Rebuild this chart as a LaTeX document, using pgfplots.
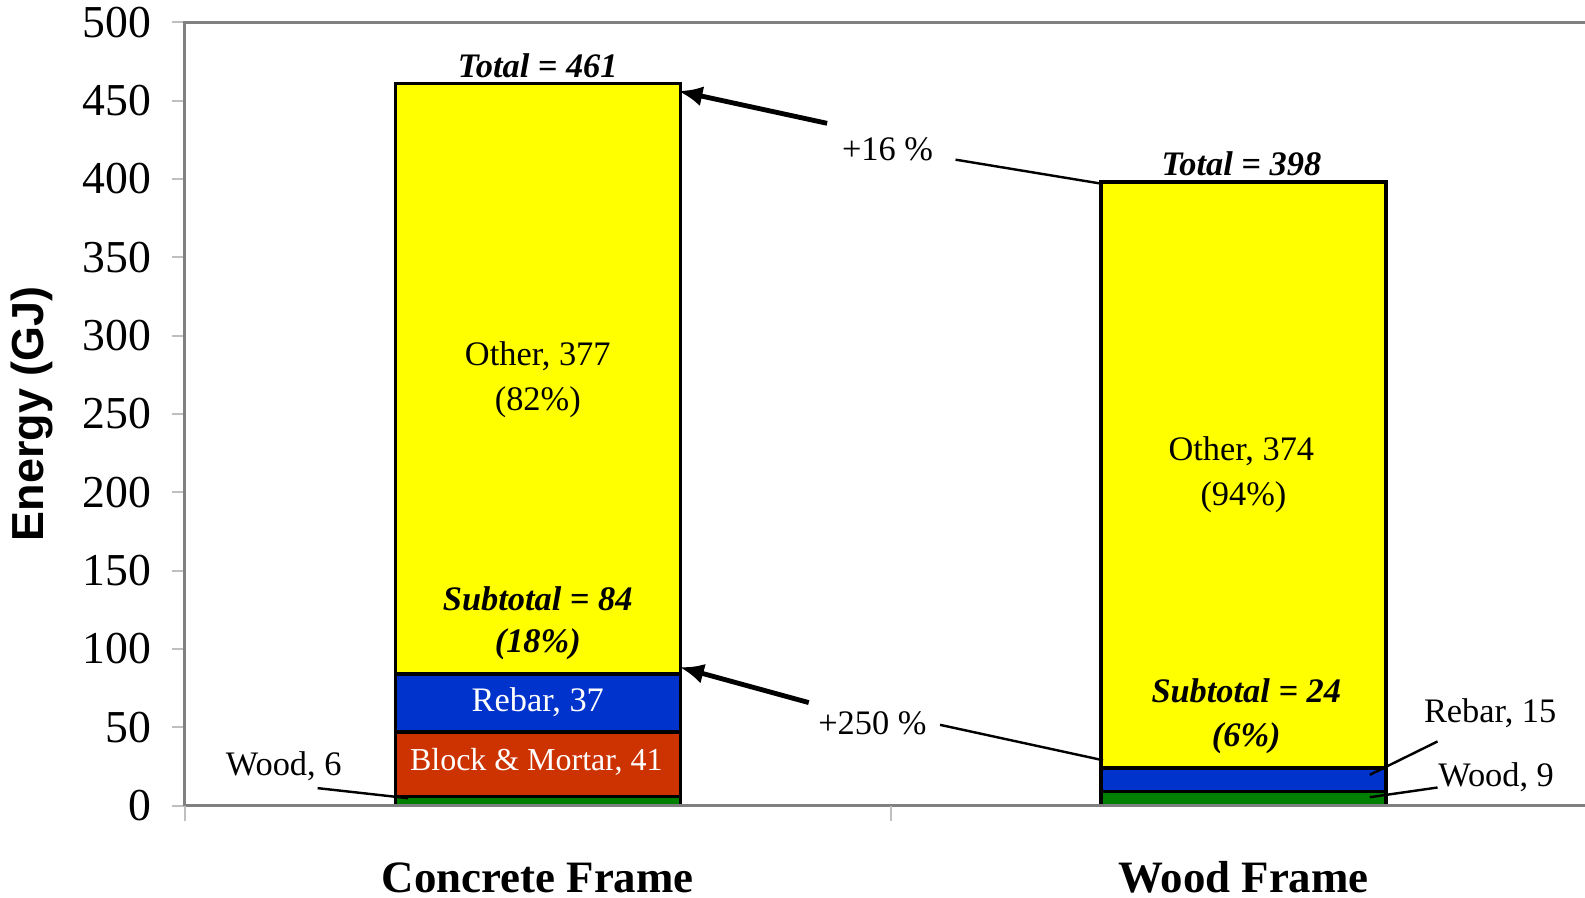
\documentclass[border=0pt]{standalone}
\usepackage{fontspec}
\setmainfont{Liberation Serif}
\newfontfamily\arialfont{Liberation Sans}
\usepackage{pgfplots}
\pgfplotsset{compat=1.18}
\usetikzlibrary{arrows.meta}
\definecolor{other}{RGB}{255,255,0}
\definecolor{rebar}{RGB}{0,51,204}
\definecolor{block}{RGB}{204,51,0}
\definecolor{wood}{RGB}{0,128,0}
\definecolor{axisgray}{RGB}{128,128,128}
\newcommand\af{\fontsize{8.5}{10}\selectfont}
\pgfplotsset{frame/.style={
  scale only axis,
  width=346.25pt, height=193.75pt,
  xmin=-0.5, xmax=1.484,
  ymin=0, ymax=500,
  clip=false}}

\begin{document}
\begin{tikzpicture}
\begin{axis}[
  frame,
  ybar stacked, bar width=0.404,
  ytick={0,50,...,500},
  xtick={0,1},
  xticklabels={Concrete Frame, Wood Frame},
  tick pos=left,
  tick align=outside,
  major tick length=3.25pt,
  xtick style={draw=none},
  ytick style={black!25, line width=0.5pt},
  axis line style={draw=none},
  /pgf/number format/assume math mode=true,
  yticklabel style={font=\fontsize{11.3}{13}\selectfont, xshift=-1.5pt},
  xticklabel style={font=\fontsize{11.1}{13}\selectfont\bfseries, anchor=base, yshift=-18.3pt},
  ylabel={Energy (GJ)},
  ylabel style={font=\arialfont\bfseries\fontsize{11.1}{13}\selectfont, at={(rel axis cs:-0.109,0.5)}, anchor=center},
]
\addplot[fill=wood, draw=black, line width=0.8pt] coordinates {(0,6) (1,9)};
\addplot[fill=block, draw=black, line width=0.8pt] coordinates {(0,41) (1,0)};
\addplot[fill=rebar, draw=black, line width=0.8pt] coordinates {(0,37) (1,15)};
\addplot[fill=other, draw=black, line width=0.8pt] coordinates {(0,377) (1,374)};
\end{axis}

% overlay axis for the annotations, drawn on top of the bars
\begin{axis}[frame, hide axis, every node/.append style={yshift=-0.5pt}]
% axis lines (no right edge in the original)
\draw[axisgray, line width=0.75pt] (rel axis cs:0,0) -- (rel axis cs:1,0);
\draw[axisgray, line width=0.75pt] (rel axis cs:0,0) -- (rel axis cs:0,1) -- (rel axis cs:1,1);
\draw[black!25, line width=0.5pt] (axis cs:-0.5,0) -- ([yshift=-3.75pt]axis cs:-0.5,0);
\draw[black!25, line width=0.5pt] (axis cs:0.5,0) -- ([yshift=-3.75pt]axis cs:0.5,0);

% labels, concrete frame
\node[font=\af\bfseries\itshape] at (axis cs:0,472.3) {Total = 461};
\node[font=\af] at (axis cs:0,287.1) {Other, 377};
\node[font=\af] at (axis cs:0,257.4) {(82\%)};
\node[font=\af\bfseries\itshape] at (axis cs:0,132.3) {Subtotal = 84};
\node[font=\af\bfseries\itshape] at (axis cs:0,103.2) {(18\%)};
\node[font=\af, text=white] at (axis cs:0,65.8) {Rebar, 37};
\node[font=\fontsize{7.9}{9.5}\selectfont, text=white] at (axis cs:-0.002,27.7) {Block \& Mortar, 41};
\node[font=\af] at (axis cs:-0.36,25.2) {Wood, 6};
\draw[line width=0.6pt] (axis cs:-0.312,11.2) -- (axis cs:-0.184,4.8);

% labels, wood frame
\node[font=\af\bfseries\itshape] at (axis cs:0.997,409.7) {Total = 398};
\node[font=\af] at (axis cs:0.997,226.5) {Other, 374};
\node[font=\af] at (axis cs:1.0,196.8) {(94\%)};
\node[font=\af\bfseries\itshape] at (axis cs:1.004,73.5) {Subtotal = 24};
\node[font=\af\bfseries\itshape] at (axis cs:1.004,43.2) {(6\%)};
\node[font=\af] at (axis cs:1.3496,58.7) {Rebar, 15};
\node[font=\af] at (axis cs:1.358,18.1) {Wood, 9};
\draw[line width=0.6pt] (axis cs:1.275,41) -- (axis cs:1.179,19.7);
\draw[line width=0.6pt] (axis cs:1.275,11.6) -- (axis cs:1.179,5.4);

% comparison arrows
\node[font=\af] at (axis cs:0.4957,418.7) {+16 \%};
\draw[line width=1.2pt, -{Latex[length=6pt, width=5pt]}] (axis cs:0.410,435.5) -- (axis cs:0.199,456.1);
\draw[line width=0.6pt] (axis cs:0.592,412.3) -- (axis cs:0.801,396.8);
\node[font=\af] at (axis cs:0.4742,52.3) {+250 \%};
\draw[line width=1.2pt, -{Latex[length=6pt, width=5pt]}] (axis cs:0.384,65.8) -- (axis cs:0.201,88.4);
\draw[line width=0.6pt] (axis cs:0.570,51.6) -- (axis cs:0.801,29.0);

\coordinate (bbsw) at (rel axis cs:-0.1321,-0.1174);
\coordinate (bbne) at (rel axis cs:1,1.0284);
\end{axis}
\pgfresetboundingbox
\useasboundingbox (bbsw) rectangle (bbne);
\end{tikzpicture}
\end{document}
